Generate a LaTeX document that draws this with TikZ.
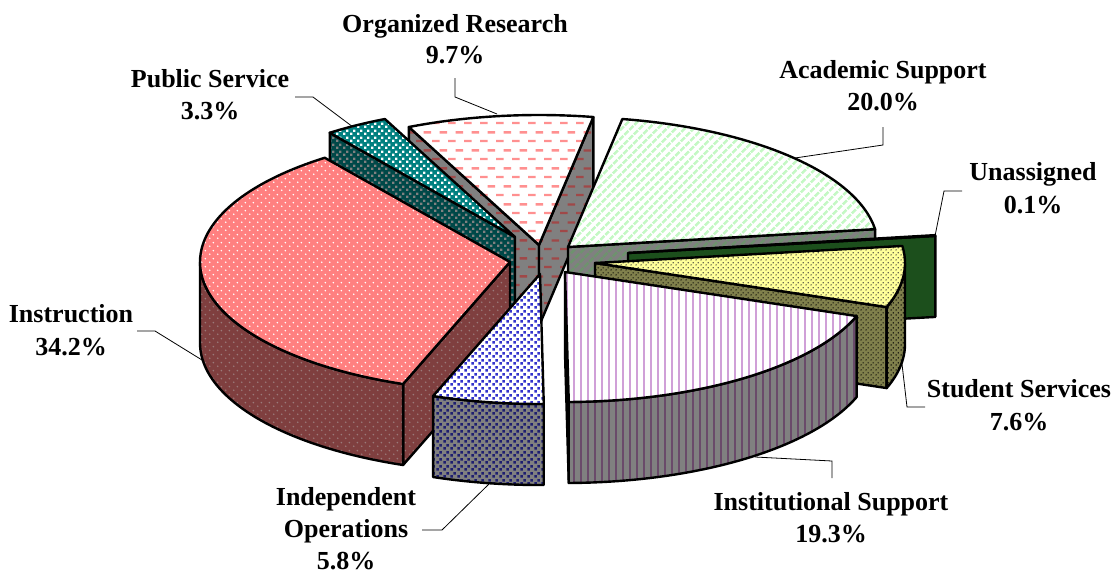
\documentclass[tikz,border=0pt]{standalone}
\usepackage{fontspec}
\setmainfont{Liberation Serif}
\usetikzlibrary{patterns,patterns.meta}

\pgfdeclarepatternformonly{pieDotsA}{\pgfpointorigin}{\pgfpoint{8pt}{8pt}}{\pgfpoint{8pt}{8pt}}{%
  \pgfpathcircle{\pgfpoint{2pt}{2pt}}{1pt}%
  \pgfpathcircle{\pgfpoint{6pt}{6pt}}{1pt}%
  \pgfusepath{fill}}
\pgfdeclarepatternformonly{pieDotsB}{\pgfpointorigin}{\pgfpoint{5pt}{5pt}}{\pgfpoint{5pt}{5pt}}{%
  \pgfpathcircle{\pgfpoint{1.25pt}{1.25pt}}{0.85pt}%
  \pgfpathcircle{\pgfpoint{3.75pt}{3.75pt}}{0.85pt}%
  \pgfusepath{fill}}
\pgfdeclarepatternformonly{pieDash}{\pgfpointorigin}{\pgfpoint{16pt}{18pt}}{\pgfpoint{16pt}{18pt}}{%
  \pgfpathrectangle{\pgfpoint{0pt}{2pt}}{\pgfpoint{8pt}{2.4pt}}%
  \pgfpathrectangle{\pgfpoint{8pt}{11pt}}{\pgfpoint{8pt}{2.4pt}}%
  \pgfusepath{fill}}
\pgfdeclarepatternformonly{pieSq}{\pgfpointorigin}{\pgfpoint{6.5pt}{6.5pt}}{\pgfpoint{6.5pt}{6.5pt}}{%
  \pgfpathrectangle{\pgfpoint{0.3pt}{0.3pt}}{\pgfpoint{2.8pt}{2.8pt}}%
  \pgfpathrectangle{\pgfpoint{3.55pt}{3.55pt}}{\pgfpoint{2.8pt}{2.8pt}}%
  \pgfusepath{fill}}
\pgfdeclarepatternformonly{pieChk}{\pgfpointorigin}{\pgfpoint{7pt}{7pt}}{\pgfpoint{7pt}{7pt}}{%
  \pgfpathrectangle{\pgfpoint{0pt}{0pt}}{\pgfpoint{2.6pt}{2.6pt}}%
  \pgfpathrectangle{\pgfpoint{3.5pt}{3.5pt}}{\pgfpoint{2.6pt}{2.6pt}}%
  \pgfusepath{fill}}

\definecolor{cInstr}{HTML}{FF8080}
\definecolor{cInstrD}{HTML}{7F3F3F}
\definecolor{cInstrDot}{HTML}{9A7A7A}
\definecolor{cTeal}{HTML}{008080}
\definecolor{cTealD}{HTML}{004848}
\definecolor{cGray}{HTML}{808080}
\definecolor{cOrgDash}{HTML}{FF9090}
\definecolor{cOrgDashD}{HTML}{A04848}
\definecolor{cAcad}{HTML}{C4F8C4}
\definecolor{cAcadD}{HTML}{6E926E}
\definecolor{cUnT}{HTML}{2E6B2E}
\definecolor{cUnD}{HTML}{1C4F1C}
\definecolor{cStu}{HTML}{FFFF99}
\definecolor{cStuD}{HTML}{80804C}
\definecolor{cInst}{HTML}{D0A0D8}
\definecolor{cInstD}{HTML}{6A4A6A}
\definecolor{cInd}{HTML}{3333CC}
\definecolor{cIndD}{HTML}{1E1E70}

% top face: apex x, apex y, start angle, end angle, style
\newcommand\pieTop[5]{\path[#5] (#1,#2) -- plot[domain=#3:#4,samples=80] ({#1+310*sin(\x)},{#2-130*cos(\x)}) -- cycle;}
% outer curved face
\newcommand\pieSide[5]{\path[#5] plot[domain=#3:#4,samples=60] ({#1+310*sin(\x)},{#2-130*cos(\x)}) -- plot[domain=#4:#3,samples=60] ({#1+310*sin(\x)},{#2+81-130*cos(\x)}) -- cycle;}
% radial face
\newcommand\pieRad[4]{\path[#4] (#1,#2) -- ({#1+310*sin(#3)},{#2-130*cos(#3)}) -- ++(0,81) -- (#1,{#2+81}) -- cycle;}

\begin{document}
\begin{tikzpicture}[x=1pt,y=-1pt,
  face/.style={draw=black,line width=2.4pt,line join=round},
  orgT/.style={face,preaction={fill=white},pattern=pieDash,pattern color=cOrgDash},
  orgS/.style={face,preaction={fill=cGray},pattern=pieDash,pattern color=cOrgDashD},
  pubT/.style={face,preaction={fill=cTeal},pattern=pieChk,pattern color=white},
  pubS/.style={face,preaction={fill=cTealD},pattern=pieChk,pattern color=cGray},
  acaT/.style={face,preaction={fill=white},pattern={Lines[angle=45,distance=6.5pt,line width=3pt]},pattern color=cAcad},
  acaS/.style={face,preaction={fill=cGray},pattern={Lines[angle=45,distance=6.5pt,line width=3pt]},pattern color=cAcadD},
  unT/.style={face,fill=cUnT},
  unS/.style={face,fill=cUnD},
  stuT/.style={face,preaction={fill=cStu},pattern=pieDotsB,pattern color=black!80},
  stuS/.style={face,preaction={fill=cStuD},pattern=pieDotsB,pattern color=black},
  insT/.style={face,preaction={fill=cInstr},pattern=pieDotsA,pattern color=white},
  insS/.style={face,preaction={fill=cInstrD},pattern=pieDotsA,pattern color=cInstrDot},
  itsT/.style={face,preaction={fill=white},pattern={Lines[angle=90,distance=7pt,line width=2.2pt]},pattern color=cInst},
  itsS/.style={face,preaction={fill=cGray},pattern={Lines[angle=90,distance=7pt,line width=2.2pt]},pattern color=cInstD},
  indT/.style={face,preaction={fill=white},pattern=pieSq,pattern color=cInd},
  indS/.style={face,preaction={fill=cGray},pattern=pieSq,pattern color=cIndD},
  lbl/.style={anchor=base,inner sep=0pt,font=\bfseries\fontsize{26}{32}\selectfont},
  leader/.style={draw=black,line width=0.8pt}]
\useasboundingbox (0,0) rectangle (1120,576);
\fill[white] (0,0) rectangle (1120,576);

% Organized Research
\pieRad{539}{245}{335.18}{orgS}
\pieRad{539}{245}{370.1}{orgS}
\pieTop{539}{245}{335.18}{370.1}{orgT}
% Public Service
\pieRad{515}{237}{323.3}{pubS}
\pieTop{515}{237}{323.3}{335.18}{pubT}
% Academic Support
\pieRad{568}{247}{82.1}{acaS}
\pieTop{568}{247}{10.1}{82.1}{acaT}
% Unassigned
\pieRad{628}{253}{82.46}{unS}
\pieTop{628}{253}{82.1}{82.46}{unT}
% Student Services
\pieRad{595}{263}{109.82}{stuS}
\pieSide{595}{263}{90}{109.82}{stuS}
\pieTop{595}{263}{82.46}{109.82}{stuT}
% Instruction
\pieRad{510}{262}{200.18}{insS}
\pieSide{510}{262}{200.18}{270}{insS}
\pieTop{510}{262}{200.18}{323.3}{insT}
% Institutional Support
\pieRad{565}{272}{179.3}{itsS}
\pieSide{565}{272}{109.82}{179.3}{itsS}
\pieTop{565}{272}{109.82}{179.3}{itsT}
% Independent Operations
\pieSide{540}{274}{179.3}{200.18}{indS}
\pieTop{540}{274}{179.3}{200.18}{indT}

% labels
\node[lbl] (orgA) at (455,32) {Organized Research};
\node[lbl] (orgB) at (455,63) {9.7\%};
\node[lbl] (pubA) at (210,87) {Public Service};
\node[lbl] (pubB) at (210,119) {3.3\%};
\node[lbl] (acaA) at (883,78) {Academic Support};
\node[lbl] (acaB) at (883,110) {20.0\%};
\node[lbl] (unA) at (1033,180) {Unassigned};
\node[lbl] (unB) at (1033,213) {0.1\%};
\node[lbl] (insA) at (71,322) {Instruction};
\node[lbl] (insB) at (71,355) {34.2\%};
\node[lbl] (indA) at (346,505) {Independent};
\node[lbl] (indB) at (346,537) {Operations};
\node[lbl] (indC) at (346,569) {5.8\%};
\node[lbl] (stuA) at (1019,397) {Student Services};
\node[lbl] (stuB) at (1019,430) {7.6\%};
\node[lbl] (itsA) at (831,510) {Institutional Support};
\node[lbl] (itsB) at (831,542) {19.3\%};

% leader lines
\coordinate (orgK1) at (455,78); \coordinate (orgK2) at (455,97); \coordinate (orgK3) at (497,114);
\draw[leader] (orgK1) -- (orgK2) -- (orgK3);
\coordinate (pubK1) at (295,97); \coordinate (pubK2) at (313,97); \coordinate (pubK3) at (353,127);
\draw[leader] (pubK1) -- (pubK2) -- (pubK3);
\coordinate (acaK1) at (883,127); \coordinate (acaK2) at (883,145); \coordinate (acaK3) at (795,158);
\draw[leader] (acaK1) -- (acaK2) -- (acaK3);
\coordinate (unK1) at (962,191); \coordinate (unK2) at (944,191); \coordinate (unK3) at (935,236);
\draw[leader] (unK1) -- (unK2) -- (unK3);
\coordinate (insK1) at (137,331); \coordinate (insK2) at (155,331); \coordinate (insK3) at (202,360);
\draw[leader] (insK1) -- (insK2) -- (insK3);
\coordinate (indK1) at (422,530); \coordinate (indK2) at (442,530); \coordinate (indK3) at (489,484);
\draw[leader] (indK1) -- (indK2) -- (indK3);
\coordinate (itsK1) at (832,478); \coordinate (itsK2) at (832,461); \coordinate (itsK3) at (755,457);
\draw[leader] (itsK1) -- (itsK2) -- (itsK3);
\coordinate (stuK1) at (925,407); \coordinate (stuK2) at (907,407); \coordinate (stuK3) at (902,364);
\draw[leader] (stuK1) -- (stuK2) -- (stuK3);
\end{tikzpicture}
\end{document}
